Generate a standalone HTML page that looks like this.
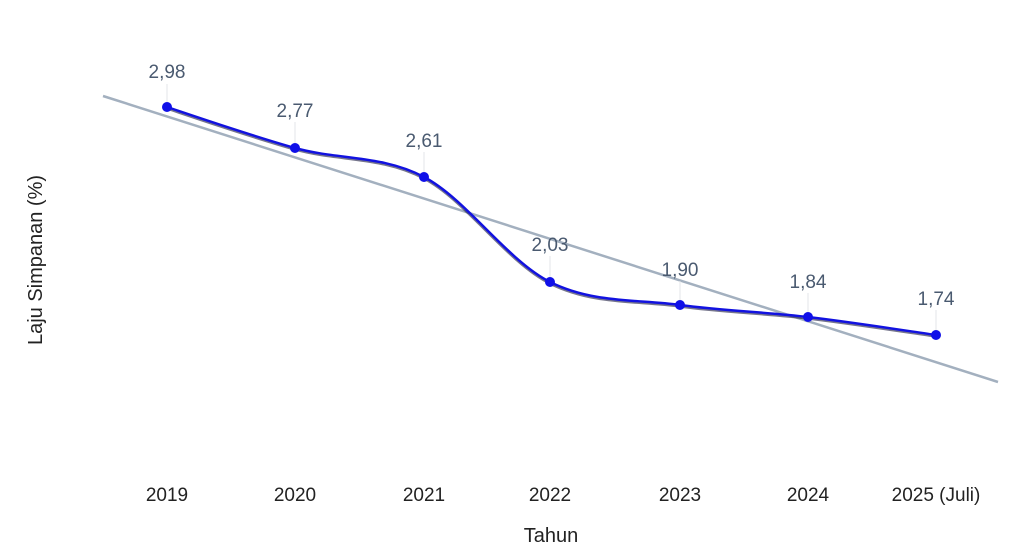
<!DOCTYPE html>
<html><head><meta charset="utf-8"><style>
html,body{margin:0;padding:0;background:#fff;}
svg{display:block;font-family:"Liberation Sans",sans-serif;}
</style></head><body>
<svg width="1024" height="559" viewBox="0 0 1024 559" xmlns="http://www.w3.org/2000/svg">
<line x1="103" y1="96" x2="998" y2="382" stroke="#a3b0bf" stroke-width="2.5"/>
<g stroke="#e3e6ea" stroke-width="1">
<line x1="167" y1="84" x2="167" y2="107"/>
<line x1="295" y1="122" x2="295" y2="148"/>
<line x1="424" y1="152" x2="424" y2="177"/>
<line x1="550" y1="256" x2="550" y2="282"/>
<line x1="680" y1="281" x2="680" y2="305"/>
<line x1="808" y1="293" x2="808" y2="317"/>
<line x1="936" y1="310" x2="936" y2="335"/>
</g>
<path d="M167,107 C188,114 252,136 295,148 C338,160 381.5,154.7 424,177 C466.5,199.3 507.3,260.7 550,282 C592.7,303.3 637,299.2 680,305 C723,310.8 765.3,312 808,317 C850.7,322 914.7,332 936,335" fill="none" stroke="#1a1a40" stroke-width="3.5" transform="translate(0,1)" opacity="0.6"/>
<path d="M167,107 C188,114 252,136 295,148 C338,160 381.5,154.7 424,177 C466.5,199.3 507.3,260.7 550,282 C592.7,303.3 637,299.2 680,305 C723,310.8 765.3,312 808,317 C850.7,322 914.7,332 936,335" fill="none" stroke="#1212e0" stroke-width="2.5"/>
<g fill="#1010e8">
<circle cx="167" cy="107" r="5"/><circle cx="295" cy="148" r="5"/><circle cx="424" cy="177" r="5"/>
<circle cx="550" cy="282" r="5"/><circle cx="680" cy="305" r="5"/><circle cx="808" cy="317" r="5"/><circle cx="936" cy="335" r="5"/>
</g>
<g fill="#4a5a70" font-size="19" text-anchor="middle">
<text x="167" y="78">2,98</text>
<text x="295" y="117">2,77</text>
<text x="424" y="147">2,61</text>
<text x="550" y="251">2,03</text>
<text x="680" y="276">1,90</text>
<text x="808" y="288">1,84</text>
<text x="936" y="305">1,74</text>
</g>
<g fill="#222" font-size="19" text-anchor="middle">
<text x="167" y="501">2019</text>
<text x="295" y="501">2020</text>
<text x="424" y="501">2021</text>
<text x="550" y="501">2022</text>
<text x="680" y="501">2023</text>
<text x="808" y="501">2024</text>
<text x="936" y="501">2025 (Juli)</text>
<text x="551" y="542" font-size="20">Tahun</text>
<text transform="translate(42,260) rotate(-90)" font-size="20">Laju Simpanan (%)</text>
</g>
</svg>
</body></html>
